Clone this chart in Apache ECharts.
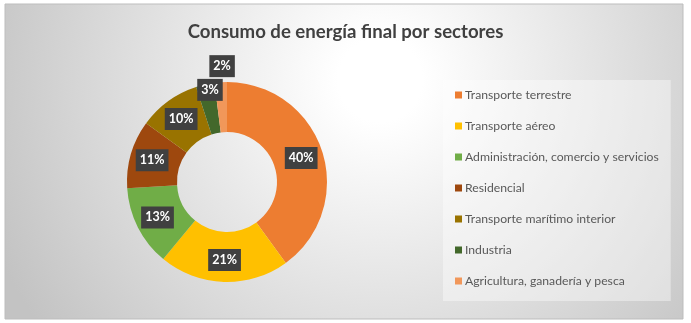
<!DOCTYPE html>
<html>
<head>
<meta charset="utf-8">
<script src="https://cdn.jsdelivr.net/npm/echarts@6/dist/echarts.min.js"></script>
<style>html,body{margin:0;padding:0;background:#fff}#c{width:691px;height:323px}</style>
</head>
<body>
<div id="c"></div>
<script>
const titleText = 'Consumo de energía final por sectores';
const categories = ['Transporte terrestre','Transporte aéreo','Administración, comercio y servicios','Residencial','Transporte marítimo interior','Industria','Agricultura, ganadería y pesca'];
const values = [40, 21, 13, 11, 10, 3, 2];
const colors = ['#ED7D31','#FFC000','#70AD47','#9E480E','#997300','#43682B','#F1975A'];

const chart = echarts.init(document.getElementById('c'), null, {renderer:'canvas'});
chart.setOption({
  animation: false,
  color: colors,
  graphic: [{
    type: 'rect', z: -10, silent: true,
    shape: {x: 5, y: 4, width: 678, height: 315},
    style: {
      fill: {type:'radial', x: 380, y: 80, r: 420, global: true,
        colorStops: [{offset:0, color:'#ffffff'},{offset:0.1, color:'#ffffff'},{offset:1, color:'#c3c3c3'}]},
      stroke: '#bdbdbd', lineWidth: 1
    }
  }],
  title: {
    text: titleText, left: 'center', top: 22, padding: 0,
    textStyle: {fontFamily: 'Lato', fontSize: 18.6, fontWeight: 'bold', color: '#404040'}
  },
  legend: {
    orient: 'vertical', left: 443, top: 80,
    padding: [8, 12, 13, 12],
    backgroundColor: 'rgba(255,255,255,0.4)',
    icon: 'rect', itemWidth: 7, itemHeight: 7, itemGap: 17,
    textStyle: {fontFamily: 'Lato', fontSize: 12.2, color: '#595959', lineHeight: 14, padding: [0,0,0,-2]},
    data: categories
  },
  series: [{
    type: 'pie',
    center: [227, 182],
    radius: [50, 100],
    startAngle: 90,
    clockwise: true,
    data: categories.map((n, i) => ({name: n, value: values[i]})),
    label: {
      show: true, position: 'inside', formatter: '{c}%',
      fontFamily: 'Lato', fontSize: 12.5, fontWeight: 'bold', color: '#ffffff',
      backgroundColor: '#404040', padding: [5, 4, 4, 4]
    },
    labelLayout: function (p) {
      if (p.dataIndex === 5) return {dy: -16};
      if (p.dataIndex === 6) return {dy: -38};
      return {};
    },
    labelLine: {show: false},
    emphasis: {disabled: true}
  }]
});
</script>
</body>
</html>
